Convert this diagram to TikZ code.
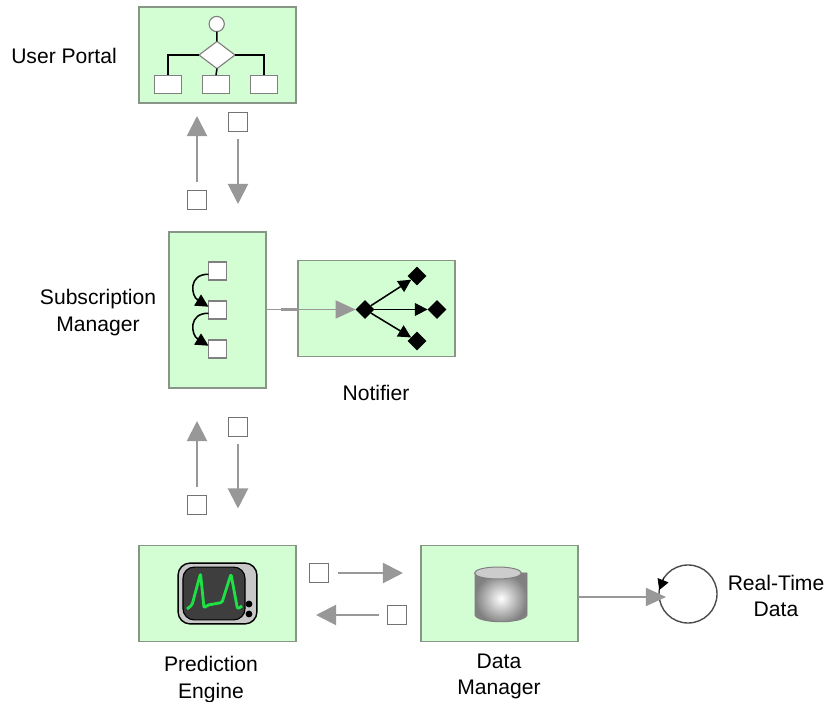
\documentclass[tikz,border=0pt]{standalone}
\usepackage{fontspec}
\setmainfont{Liberation Sans}
\usetikzlibrary{calc,arrows.meta,shapes.geometric}

\definecolor{panelgreen}{RGB}{211,253,211}
\definecolor{panelline}{RGB}{135,150,135}
\definecolor{flowgray}{RGB}{152,152,152}
\definecolor{tvgray}{RGB}{200,200,200}
\definecolor{tvdark}{RGB}{62,62,62}
\definecolor{tracegreen}{RGB}{30,225,70}

\begin{document}
\begin{tikzpicture}[x=0.025cm,y=-0.025cm,every node/.style={outer sep=0pt,inner sep=0pt}]
\tikzstyle{panel}=[draw=panelline,fill=panelgreen,line width=0.9pt,minimum width=3.925cm,minimum height=2.4cm]
\tikzstyle{msg}=[draw=black!55,fill=white,line width=0.7pt,minimum size=0.46cm]
\tikzstyle{part}=[draw=black!50,fill=white,line width=0.8pt]
\tikzstyle{flow}=[draw=flowgray,line width=1.5pt,-{Triangle[length=0.5cm,width=0.5cm]}]
\tikzstyle{feed}=[draw=flowgray,line width=1.2pt,-{Triangle[length=0.5cm,width=0.45cm]}]
\tikzstyle{wire}=[line width=1.1pt]
\tikzstyle{wirearrow}=[line width=1.1pt,-{Triangle[length=0.32cm,width=0.32cm]}]
\tikzstyle{blackdiamond}=[diamond,fill=black,minimum size=0.47cm]
\tikzstyle{label}=[align=center,font=\fontsize{15}{18.7}\selectfont]

\useasboundingbox (0,0) rectangle (825,702);

\node (portal) at (217.5,55) [panel] {};
\node (start) at (216.7,24) [part,circle,minimum size=0.38cm] {};
\node (choice) at (217,55) [part,diamond,minimum width=0.9cm,minimum height=0.68cm] {};
\node (left) at (168,84.5) [part,minimum width=0.69cm,minimum height=0.47cm] {};
\node (mid) at (216,84.5) [part,minimum width=0.69cm,minimum height=0.47cm] {};
\node (right) at (264,84.5) [part,minimum width=0.69cm,minimum height=0.47cm] {};
\draw [wire] (start) -- (choice);
\draw [wire] (choice.west) -| (left.north);
\draw [wire] (choice.south) -- (mid.north);
\draw [wire] (choice.east) -| (right.north);

\node (sub) at (217.5,310) [panel,minimum width=2.425cm,minimum height=3.9cm] {};
\node (item1) at (217.5,271) [part,minimum size=0.45cm] {};
\node (item2) at (217.5,310) [part,minimum size=0.45cm] {};
\node (item3) at (217.5,349) [part,minimum size=0.45cm] {};
\draw [wirearrow] (item1.200) .. controls (188,274) and (191,296) .. (item2.160);
\draw [wirearrow] (item2.200) .. controls (188,313) and (191,335) .. (item3.160);

\node (notifier) at (376.5,308.5) [panel] {};
\node (hub) at (365,309.5) [blackdiamond] {};
\node (out1) at (417,276) [blackdiamond] {};
\node (out2) at (437,309.5) [blackdiamond] {};
\node (out3) at (417,341) [blackdiamond] {};
\draw [wirearrow] (hub) -- (out1);
\draw [wirearrow] (hub) -- (out2);
\draw [wirearrow] (hub) -- (out3);
\draw [feed] (sub.east |- hub) -- (hub.west);
\draw [draw=flowgray,line width=2.4pt] ($(sub.east |- hub)+(15,0)$) -- (notifier.west |- hub);

\node (msg1) at (197,200) [msg] {};
\node (msg2) at (238,122) [msg] {};
\draw [flow,shorten <=0.225cm,shorten >=0.325cm] (msg1.north) -- (msg1.north |- portal.south);
\draw [flow,shorten <=0.2cm,shorten >=0.7cm] (msg2.south) -- (msg2.south |- sub.north);

\node (msg3) at (197,505) [msg] {};
\node (msg4) at (238,427) [msg] {};
\node (engine) at (217.5,593.5) [panel] {};
\draw [flow,shorten <=0.225cm,shorten >=0.825cm] (msg3.north) -- (msg3.north |- sub.south);
\draw [flow,shorten <=0.2cm,shorten >=0.925cm] (msg4.south) -- (msg4.south |- engine.north);

\node (tv) at (217.5,593.5) [draw=black,fill=tvgray,line width=1pt,rounded corners=0.3cm,minimum width=1.97cm,minimum height=1.52cm] {};
\node (screen) at (214,593.5) [draw=black,fill=tvdark,line width=0.8pt,rounded corners=0.28cm,minimum width=1.55cm,minimum height=1.32cm] {};
\node (knob1) at (249,604) [fill=black,circle,minimum size=0.17cm] {};
\node (knob2) at (249,614) [fill=black,circle,minimum size=0.17cm] {};
\draw [tracegreen,line width=2pt,line join=round,rounded corners=1pt] (187,609) -- (192,605) -- (200.5,573.5) -- (204,608) -- (208,605) -- (222,602.5) -- (231,574) -- (237.5,609) -- (242,606);

\node (data) at (499.5,593.5) [panel] {};
\shade [inner color=white,outer color=black!50] (475,573) -- (475,615) .. controls (478,624) and (524,624) .. (527,615) -- (527,573) -- cycle;
\draw [black!50,line width=0.7pt] (475,573) -- (475,615) .. controls (478,624) and (524,624) .. (527,615) -- (527,573) -- cycle;
\node (lid) at (498,573) [ellipse,draw=black!50,fill=black!20,line width=0.7pt,minimum width=1.17cm,minimum height=0.3cm] {};

\node (msg5) at (319,573) [msg] {};
\node (msg6) at (397,615) [msg] {};
\draw [flow,shorten <=0.25cm,shorten >=0.45cm] (msg5.east) -- (data.west |- msg5);
\draw [flow,shorten <=0.225cm,shorten >=0.5cm] (msg6.west) -- (engine.east |- msg6);

\node (loop) at (688,594) [draw=black!70,line width=1pt,circle,minimum size=1.45cm] {};
\coordinate (looptip) at (666,597);
\draw [feed] (data.east |- looptip) -- (looptip);
\draw [black,-{Triangle[length=0.26cm,width=0.29cm]}] (loop.145) -- (loop.172);

\node (portallabel) at (64,56) [label] {User Portal};
\node (sublabel) at (98,312.5) [label] {Subscription\\Manager};
\node (notifierlabel) at (376,392.5) [label] {Notifier};
\node (enginelabel) at (211,679.5) [label] {Prediction\\Engine};
\node (datalabel) at (499,676.5) [label] {Data\\Manager};
\node (looplabel) at (776,596) [label] {Real-Time\\Data};
\end{tikzpicture}
\end{document}
